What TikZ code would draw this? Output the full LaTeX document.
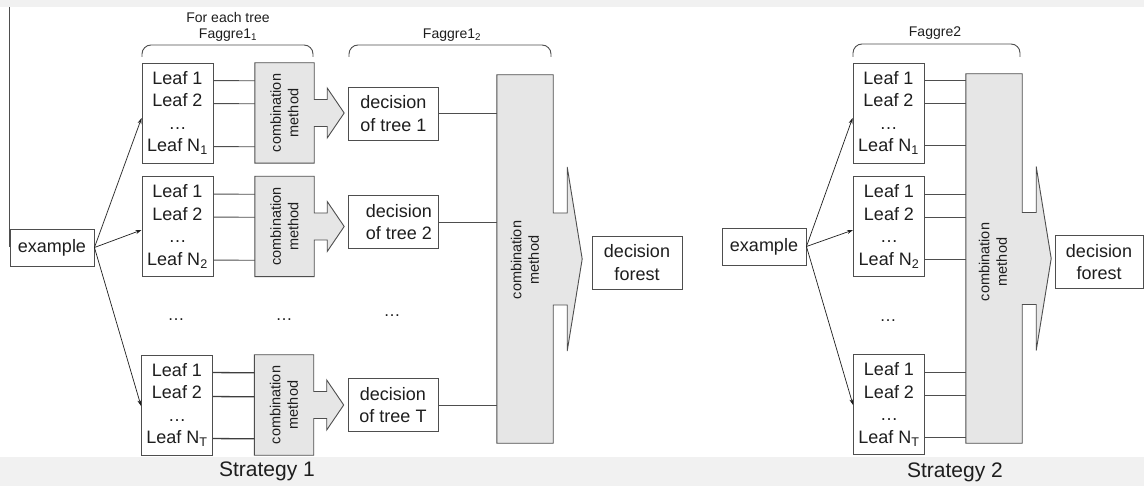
\documentclass[tikz,border=0pt]{standalone}
\usepackage{fontspec}
\setmainfont{Liberation Sans}
\usetikzlibrary{arrows.meta,calc}
\definecolor{ink}{HTML}{1E1E1E}
\definecolor{edge}{HTML}{4E4E4E}
\definecolor{boxfill}{HTML}{E6E6E6}
\definecolor{strip}{HTML}{F1F1F1}
\newcommand\combarrow[1]{%
  \draw[combline] (#1.north west) -- (#1.north east) -- ($(#1.east)+(0,-13.5)$)
    -- ($(#1.east)+(13,-13.5)$) -- ($(#1.east)+(13,-25)$) -- ($(#1.east)+(30,0)$)
    -- ($(#1.east)+(13,25)$) -- ($(#1.east)+(13,13.5)$) -- ($(#1.east)+(0,13.5)$)
    -- (#1.south east) -- (#1.south west) -- cycle;}
\newcommand\bigarrow[1]{%
  \draw[combline] (#1.north west) -- (#1.north east) -- ($(#1.east)+(0,-46)$)
    -- ($(#1.east)+(14,-46)$) -- ($(#1.east)+(14,-92)$) -- ($(#1.east)+(29,0)$)
    -- ($(#1.east)+(14,92)$) -- ($(#1.east)+(14,46)$) -- ($(#1.east)+(0,46)$)
    -- (#1.south east) -- (#1.south west) -- cycle;}
\begin{document}
\begin{tikzpicture}[x=1pt,y=-1pt,
  every node/.style={text=ink,font=\fontsize{18}{22.5}\selectfont},
  leafbox/.style={draw=edge,line width=0.9pt,fill=white,minimum width=71pt,minimum height=100pt,inner sep=0pt,align=center},
  decbox/.style={draw=edge,line width=0.9pt,fill=white,minimum width=90pt,minimum height=53pt,inner sep=0pt,align=center},
  combox/.style={minimum width=59pt,minimum height=100pt,inner sep=0pt},
  combline/.style={draw=edge,line width=0.9pt,fill=boxfill},
  combtext/.style={rotate=90,align=center,font=\fontsize{14.5}{17.5}\selectfont},
  link/.style={draw=edge,line width=0.9pt},
  thicklink/.style={draw=edge!80!black,line width=1.3pt},
  feed/.style={draw=ink,line width=0.7pt,-{Stealth[length=6pt,width=4pt]}},
  toplabel/.style={font=\fontsize{14}{16}\selectfont},
  dots/.style={font=\fontsize{17}{20}\selectfont},
  strategy/.style={font=\fontsize{21}{24}\selectfont},
  brace/.style={draw=edge,line width=0.9pt,rounded corners=9pt}]

% background
\fill[white] (0,0) rectangle (1144,486);
\fill[strip] (0,0) rectangle (1144,7);
\fill[strip] (0,457) rectangle (1144,486);
\useasboundingbox (0,0) rectangle (1144,486);

%================ Strategy 1 ================
\node[draw=edge,line width=0.9pt,fill=white,minimum width=84pt,minimum height=37pt,inner sep=0pt] (ex1) at (52,247.5) {example};
\coordinate (vtop) at (9,7);
\draw[link] (vtop) -- (vtop |- ex1.west);

% leaf boxes
\node[leafbox] (l1) at (177.5,113) {Leaf 1\\Leaf 2\\…\\Leaf N\textsubscript{1}};
\node[leafbox] (l2) at (177.5,226.5) {Leaf 1\\Leaf 2\\…\\Leaf N\textsubscript{2}};
\node[leafbox] (l3) at (177,405) {Leaf 1\\Leaf 2\\…\\Leaf N\textsubscript{T}};

% combination boxes with arrows
\node[combox] (c1) at (284.5,113) {};
\node[combox] (c2) at (284.5,226.5) {};
\node[combox] (c3) at (284,405) {};
\combarrow{c1}
\combarrow{c2}
\combarrow{c3}
\node[combtext] (c1t) at (c1.center) {combination\\method};
\node[combtext] (c2t) at (c2.center) {combination\\method};
\node[combtext] (c3t) at (c3.center) {combination\\method};

% leaf to combination lines
\foreach \n in {1,2}{
  \draw[link] ($(l\n.north east)+(0,18)$) -- ($(c\n.north west)+(0,18)$);
  \draw[link] ($(l\n.north east)+(0,41)$) -- ($(c\n.north west)+(0,41)$);
  \draw[link] ($(l\n.north east)+(0,84)$) -- ($(c\n.north west)+(0,84)$);
}
\draw[thicklink] ($(l3.north east)+(0,18)$) -- ($(c3.north west)+(0,18)$);
\draw[thicklink] ($(l3.north east)+(0,42)$) -- ($(c3.north west)+(0,42)$);
\draw[thicklink] ($(l3.north east)+(0,84)$) -- ($(c3.north west)+(0,84)$);

% example to leaf boxes
\draw[feed] (ex1.east) -- ($(l1.west)+(0,5)$);
\draw[feed] (ex1.east) -- ($(l2.west)+(0,3.5)$);
\draw[feed] (ex1.east) -- ($(l3.west)+(0,1)$);

% decision boxes
\node[decbox] (d1) at (393.5,113.5) {decision\\of tree 1};
\node[decbox] (d2) at (393.5,222) {};
\node[align=center] (d2t) at (399,222) {decision\\of tree 2};
\node[decbox] (d3) at (393,405) {decision\\of tree T};

% big combination arrow
\node[minimum width=56pt,minimum height=368pt,inner sep=0pt] (big1) at (525,259) {};
\bigarrow{big1}
\node[combtext] (big1t) at (525,260) {combination\\method};
\draw[link] (d1.east) -- (d1.east -| big1.west);
\draw[link] (d2.east) -- (d2.east -| big1.west);
\draw[link] (d3.east) -- (d3.east -| big1.west);

\node[decbox] (f1) at (637,262.5) {decision\\forest};

% dots
\node[dots] (dt1) at (176,320) {…};
\node[dots] (dt2) at (284,320) {…};
\node[dots] (dt3) at (392,316) {…};

% braces and labels
\draw[brace] (142,57) -- (142,45) -- (313,45) -- (313,57);
\draw[brace] (349,57) -- (349,45) -- (551,45) -- (551,57);
\node[toplabel] (lab1a) at (228,17) {For each tree};
\node[toplabel] (lab1b) at (228,35) {Faggre1\textsubscript{1}};
\node[toplabel] (lab1c) at (452,35) {Faggre1\textsubscript{2}};

\node[strategy] (s1) at (267,471) {Strategy 1};

%================ Strategy 2 ================
\node[draw=edge,line width=0.9pt,fill=white,minimum width=84pt,minimum height=37pt,inner sep=0pt] (ex2) at (764,246.5) {example};

\node[leafbox] (m1) at (888.5,113) {Leaf 1\\Leaf 2\\…\\Leaf N\textsubscript{1}};
\node[leafbox] (m2) at (889,226.5) {Leaf 1\\Leaf 2\\…\\Leaf N\textsubscript{2}};
\node[leafbox] (m3) at (889,404.5) {Leaf 1\\Leaf 2\\…\\Leaf N\textsubscript{T}};

\node[minimum width=56pt,minimum height=369pt,inner sep=0pt] (big2) at (994,258.5) {};
\bigarrow{big2}
\node[combtext] (big2t) at (993,262) {combination\\method};

\foreach \n in {1,2,3}{
  \draw[link] ($(m\n.north east)+(0,18)$) -- ($(m\n.north east -| big2.west)+(0,18)$);
  \draw[link] ($(m\n.north east)+(0,41)$) -- ($(m\n.north east -| big2.west)+(0,41)$);
  \draw[link] ($(m\n.north east)+(0,83)$) -- ($(m\n.north east -| big2.west)+(0,83)$);
}

\draw[feed] (ex2.east) -- ($(m1.west)+(0,5)$);
\draw[feed] (ex2.east) -- ($(m2.west)+(0,3.5)$);
\draw[feed] (ex2.east) -- ($(m3.west)+(0,0.5)$);

\node[decbox,minimum width=88pt] (f2) at (1099,262) {decision\\forest};

\node[dots] (dt4) at (888,321) {…};

\draw[brace] (853,57) -- (853,44) -- (1020,44) -- (1020,57);
\node[toplabel] (lab2) at (935,33) {Faggre2};

\node[strategy] (s2) at (955,472) {Strategy 2};
\end{tikzpicture}
\end{document}
